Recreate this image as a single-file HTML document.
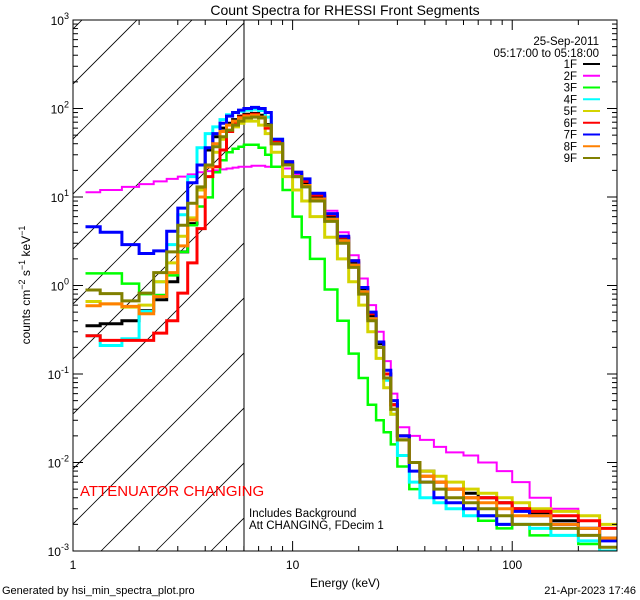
<!DOCTYPE html>
<html><head><meta charset="utf-8"><style>
body{margin:0;background:#fff;}
svg{display:block;font-family:"Liberation Sans",sans-serif;}
</style></head><body>
<svg id="chart" width="640" height="600" viewBox="0 0 640 600">
<defs><clipPath id="plotclip"><rect x="73" y="20" width="544" height="531"/></clipPath>
<clipPath id="hatchclip"><rect x="73" y="20" width="171" height="531"/></clipPath></defs>
<rect width="640" height="600" fill="#fff"/>
<text x="345" y="15" font-size="14" text-anchor="middle">Count Spectra for RHESSI Front Segments</text>
<g id="hatch" clip-path="url(#hatchclip)"></g>
<line x1="244" y1="20" x2="244" y2="551" stroke="#000" stroke-width="1"/>
<g id="series" clip-path="url(#plotclip)"></g>
<rect x="73" y="20" width="544" height="531" fill="none" stroke="#000" stroke-width="1"/>
<g id="axes"></g>
<text x="30" y="285" font-size="12" text-anchor="middle" transform="rotate(-90 30 285)">counts cm<tspan dy="-5" font-size="9">−2</tspan><tspan dy="5"> s</tspan><tspan dy="-5" font-size="9">−1</tspan><tspan dy="5"> keV</tspan><tspan dy="-5" font-size="9">−1</tspan></text>
<text x="345" y="587" font-size="12" text-anchor="middle">Energy (keV)</text>
<text x="599" y="45" font-size="11.5" text-anchor="end">25-Sep-2011</text>
<text x="599" y="57" font-size="11.5" text-anchor="end">05:17:00 to 05:18:00</text>
<g id="legend"></g>
<text x="80" y="496" font-size="15" fill="#ff0000">ATTENUATOR CHANGING</text>
<text x="249" y="517" font-size="11.5">Includes Background</text>
<text x="249" y="529" font-size="11.5">Att CHANGING, FDecim 1</text>
<text x="2" y="594" font-size="11">Generated by hsi_min_spectra_plot.pro</text>
<text x="636" y="594" font-size="11" text-anchor="end">21-Apr-2023 17:46</text>
</svg>
<script>
const edges=[1.14,1.33,1.67,2,2.33,2.67,3,3.33,3.67,4,4.33,4.67,5,5.33,5.67,6,6.5,7,7.5,8,9,10,11,12,14,16,18,20,22,24,26,28,30,34,38,44,50,60,70,85,100,120,150,200,250,300];
const labels=["1F","2F","3F","4F","5F","6F","7F","8F","9F"];
const colors=["#000000","#ff00ff","#00ff00","#00ffff","#d4d400","#ff0000","#0000ff","#ff8000","#808000"];
const widths=[3,2,2.5,3,3,3,3,3,3];
const s1F=[0.35,0.37,0.40,0.52,0.69,1.1,2.4,5.0,12.5,34,48,60,68,75,82,86,88,84,66,40,24,18,14.5,10,6,3.4,1.8,0.9,0.45,0.22,0.1,0.045,0.02,0.01,0.008,0.006,0.005,0.0045,0.004,0.0035,0.003,0.0027,0.0022,0.0018,0.0014];
const s2F=[11.3,12,13,14,15,16,17,18,19,19.6,20,20.5,21,21.5,22,22,22.5,22.5,22,22,21,18,15,11,7,4,2.2,1.2,0.6,0.3,0.14,0.06,0.025,0.02,0.018,0.015,0.013,0.012,0.01,0.008,0.006,0.004,0.003,0.0025,0.0018];
const s3F=[1.37,1.37,1.05,0.8,0.78,1.3,2.4,4.8,7.8,9.9,19,26,32,35,37,39,39,36,30,22,12,6,3.5,2,0.9,0.4,0.17,0.09,0.045,0.03,0.022,0.016,0.009,0.005,0.004,0.0035,0.003,0.0025,0.0022,0.0018,0.002,0.0015,0.0015,0.0012,0.001];
const s4F=[0.27,0.21,0.25,0.51,1.1,2.9,6.3,17,36,52,62,75,85,90,93,96,98,95,80,45,23,17,13,9.5,5.6,3.2,1.7,0.85,0.42,0.2,0.085,0.035,0.012,0.006,0.004,0.0035,0.003,0.0025,0.0025,0.002,0.002,0.0018,0.0015,0.0013,0.001];
const s5F=[0.66,0.62,0.57,0.6,1.1,1.8,3.6,5.8,12,22,32,45,55,62,68,72,72,65,52,32,17,12,9,6,3.5,2,1.1,0.6,0.3,0.15,0.07,0.035,0.018,0.01,0.008,0.007,0.006,0.005,0.0045,0.004,0.0035,0.003,0.0028,0.0025,0.002];
const s6F=[0.27,0.24,0.24,0.24,0.29,0.40,0.82,1.8,4.4,17,22,34,55,70,80,84,86,78,60,42,25,19,15,10.5,6.3,3.5,1.9,0.95,0.48,0.23,0.1,0.045,0.02,0.01,0.007,0.006,0.005,0.004,0.004,0.0035,0.003,0.0028,0.0025,0.0022,0.0018];
const s7F=[4.6,4.0,2.9,2.3,2.46,4.1,7.5,14.5,23,36,52,68,82,90,96,100,103,100,90,45,25,19,16,11,6.5,3.6,1.9,0.95,0.5,0.23,0.11,0.05,0.02,0.008,0.006,0.004,0.0035,0.003,0.0025,0.002,0.0028,0.0025,0.002,0.0018,0.0013];
const s8F=[0.59,0.62,0.58,0.48,0.75,1.4,2.8,5.5,10,22,40,55,65,72,78,82,84,80,64,40,23,17,13.5,9.5,5.6,3.2,1.7,0.85,0.42,0.2,0.09,0.04,0.018,0.01,0.007,0.006,0.005,0.004,0.0035,0.003,0.0025,0.0025,0.002,0.0018,0.0014];
const s9F=[0.89,0.81,0.67,0.82,1.4,2.4,4.8,8.5,13,23,37,48,57,65,72,78,80,78,65,40,23,17,13,9,5.3,3,1.6,0.8,0.4,0.2,0.09,0.04,0.018,0.01,0.006,0.005,0.004,0.0035,0.003,0.0025,0.002,0.002,0.0018,0.0015,0.0011];
const allSeries=[s1F,s2F,s3F,s4F,s5F,s6F,s7F,s8F,s9F];
const xMajor=[1,10,100];
const yMajorExp=[-3,-2,-1,0,1,2,3];

const NS="http://www.w3.org/2000/svg";
const X0=73,X1=617,Y0=20,Y1=551;
const xMinL=0,xMaxL=Math.log10(300),yMinL=-3,yMaxL=3;
function xs(e){return X0+(Math.log10(e)-xMinL)/(xMaxL-xMinL)*(X1-X0);}
function ys(v){v=Math.max(1e-4,Math.min(1e4,v));return Y1-(Math.log10(v)-yMinL)/(yMaxL-yMinL)*(Y1-Y0);}
function mk(tag,attrs,parent){const el=document.createElementNS(NS,tag);for(const k in attrs)el.setAttribute(k,attrs[k]);parent.appendChild(el);return el;}

// hatch
const hatch=document.getElementById('hatch');
for(let c=102;c<=800;c+=55){
  const ln=mk('line',{x1:c-551,y1:551,x2:c-20,y2:20,stroke:'#000','stroke-width':0.8},hatch);
  
  
}

// series
const sg=document.getElementById('series');
allSeries.forEach((vals,si)=>{
  let d='M'+xs(edges[0]).toFixed(1)+','+ys(vals[0]).toFixed(1);
  for(let i=0;i<vals.length;i++){
    if(i>0)d+='V'+ys(vals[i]).toFixed(1);
    d+='H'+xs(edges[i+1]).toFixed(1);
  }
  const p=mk('path',{d:d,fill:'none',stroke:colors[si],'stroke-width':widths[si],'stroke-linejoin':'miter'},sg);
  
  
});

// axes
const ax=document.getElementById('axes');
for(let dec=0;dec<3;dec++){
  for(let m=1;m<=9;m++){
    const e=m*Math.pow(10,dec); if(e>300)break;
    const x=xs(e); const L=(m===1)?10:5;
    const t1=mk('line',{x1:x,y1:Y1,x2:x,y2:Y1-L,stroke:'#000'},ax);
    
    
    const t2=mk('line',{x1:x,y1:Y0,x2:x,y2:Y0+L,stroke:'#000'},ax);
    
    
  }
}
xMajor.forEach(e=>{
  const t=mk('text',{x:xs(e),y:Y1+18,'font-size':12,'text-anchor':'middle'},ax);
  t.textContent=String(e);
  
  
});
yMajorExp.forEach(p=>{
  for(let m=1;m<=9;m++){
    if(p===3&&m>1)break;
    const y=ys(m*Math.pow(10,p)); const L=(m===1)?10:5;
    const a=mk('line',{x1:X0,y1:y,x2:X0+L,y2:y,stroke:'#000'},ax);
    
    
    const b=mk('line',{x1:X1,y1:y,x2:X1-L,y2:y,stroke:'#000'},ax);
    
    
  }
  const t=mk('text',{x:X0-4,y:ys(Math.pow(10,p))+5,'font-size':12,'text-anchor':'end'},ax);
  
  
  t.appendChild(document.createTextNode('10'));
  const sp=mk('tspan',{dy:-6,'font-size':9},t);
  sp.textContent=String(p);
});

// legend
const lg=document.getElementById('legend');
labels.forEach((lab,i)=>{
  const y=64+i*11.75;
  const t=mk('text',{x:577,y:y+4,'font-size':11.5,'text-anchor':'end'},lg);
  t.textContent=lab;
  
  
  const l=mk('line',{x1:583,y1:y,x2:600,y2:y,stroke:colors[i],'stroke-width':2},lg);
  
  
});
</script>
</body></html>
